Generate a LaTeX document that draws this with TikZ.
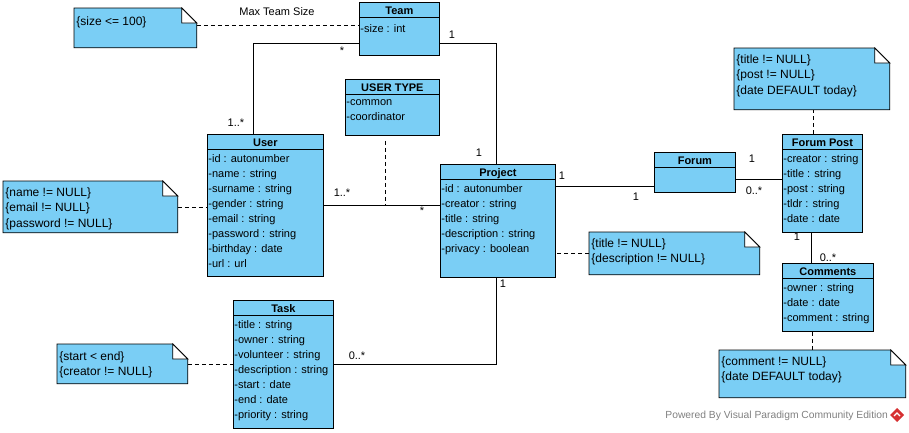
\documentclass[tikz,border=0pt]{standalone}
\usepackage{fontspec}
\setmainfont{Liberation Sans}
\usetikzlibrary{calc}

\definecolor{vpblue}{RGB}{122,206,245}
\definecolor{vpgrey}{RGB}{128,128,128}
\definecolor{vpred}{RGB}{214,48,49}

\tikzset{every picture/.style={line width=0.8pt}}
\tikzset{
  classbox/.style={draw, fill=vpblue, anchor=north west, inner sep=0pt},
  classname/.style={font=\fontsize{11}{15}\selectfont\bfseries, text height=8pt, text depth=0pt, inner sep=0pt},
  attrs/.style={font=\fontsize{11}{15}\selectfont, align=left, anchor=north west, inner xsep=1pt, inner ysep=0pt, execute at begin node=\strut},
  notebox/.style={anchor=north west, inner sep=0pt},
  notetext/.style={font=\fontsize{12}{15.5}\selectfont, align=left, anchor=north west, inner xsep=2pt, inner ysep=0pt, execute at begin node=\strut},
  mult/.style={font=\fontsize{11}{13}\selectfont, inner sep=0pt},
  constraint/.style={dash pattern=on 4pt off 3pt},
}

% header line of a class box
\newcommand{\classrule}[1]{\draw ($(#1.north west)+(0,15)$) -- ($(#1.north east)+(0,15)$);}
% note outline with folded corner
\newcommand{\dognote}[1]{%
  \draw[fill=vpblue] (#1.north west) -- ($(#1.north east)+(-15,0)$) -- ($(#1.north east)+(0,15)$) -- (#1.south east) -- (#1.south west) -- cycle;
  \draw[fill=white] ($(#1.north east)+(-15,0)$) -- ($(#1.north east)+(-15,15)$) -- ($(#1.north east)+(0,15)$) -- cycle;}

\begin{document}
\begin{tikzpicture}[x=1pt,y=1pt,yscale=-1,xscale=1]
\useasboundingbox (0,0) rectangle (909,432);

%Shape: Class [Team]
\node[classbox, minimum width=80, minimum height=53] (team) at (359,2) {};
\classrule{team}
\node[classname] (teamname) at ($(team.north)+(0,8)$) {Team};
\node[attrs] (teamattrs) at ($(team.north west)+(0,20)$) {-size : int};

%Shape: Class [USER TYPE]
\node[classbox, minimum width=94, minimum height=56] (utype) at (345,79) {};
\classrule{utype}
\node[classname] (utypename) at ($(utype.north)+(0,8)$) {USER TYPE};
\node[attrs] (utypeattrs) at ($(utype.north west)+(0,20)$) {-common\\-coordinator};

%Shape: Class [User]
\node[classbox, minimum width=116, minimum height=142] (user) at (207,134) {};
\classrule{user}
\node[classname] (username) at ($(user.north)+(0,8)$) {User};
\node[attrs] (userattrs) at ($(user.north west)+(0,20)$) {-id : autonumber\\-name : string\\-surname : string\\-gender : string\\-email : string\\-password : string\\-birthday : date\\-url : url};

%Shape: Class [Project]
\node[classbox, minimum width=115, minimum height=113] (project) at (440,164) {};
\classrule{project}
\node[classname] (projectname) at ($(project.north)+(0,8)$) {Project};
\node[attrs] (projectattrs) at ($(project.north west)+(0,20)$) {-id : autonumber\\-creator : string\\-title : string\\-description : string\\-privacy : boolean};

%Shape: Class [Forum]
\node[classbox, minimum width=81, minimum height=40] (forum) at (654,152) {};
\classrule{forum}
\node[classname] (forumname) at ($(forum.north)+(0,8)$) {Forum};

%Shape: Class [Forum Post]
\node[classbox, minimum width=80, minimum height=98] (fpost) at (782,134) {};
\classrule{fpost}
\node[classname] (fpostname) at ($(fpost.north)+(0,8)$) {Forum Post};
\node[attrs] (fpostattrs) at ($(fpost.north west)+(0,20)$) {-creator : string\\-title : string\\-post : string\\-tldr : string\\-date : date};

%Shape: Class [Comments]
\node[classbox, minimum width=91, minimum height=68] (comments) at (782,263) {};
\classrule{comments}
\node[classname] (commentsname) at ($(comments.north)+(0,8)$) {Comments};
\node[attrs] (commentsattrs) at ($(comments.north west)+(0,20)$) {-owner : string\\-date : date\\-comment : string};

%Shape: Class [Task]
\node[classbox, minimum width=100, minimum height=128] (task) at (233,300) {};
\classrule{task}
\node[classname] (taskname) at ($(task.north)+(0,8)$) {Task};
\node[attrs] (taskattrs) at ($(task.north west)+(0,20)$) {-title : string\\-owner : string\\-volunteer : string\\-description : string\\-start : date\\-end : date\\-priority : string};

%Shape: Notes
\node[notebox, minimum width=122, minimum height=39] (teamnote) at (74,8) {};
\dognote{teamnote}
\node[notetext] (teamnotetext) at ($(teamnote.north west)+(0,6)$) {\{size <= 100\}};

\node[notebox, minimum width=174, minimum height=51] (usernote) at (3,181) {};
\dognote{usernote}
\node[notetext] (usernotetext) at ($(usernote.north west)+(0,6)$) {\{name != NULL\}\\\{email != NULL\}\\\{password != NULL\}};

\node[notebox, minimum width=155, minimum height=61] (fpnote) at (734,48) {};
\dognote{fpnote}
\node[notetext] (fpnotetext) at ($(fpnote.north west)+(0,6)$) {\{title != NULL\}\\\{post != NULL\}\\\{date DEFAULT today\}};

\node[notebox, minimum width=170, minimum height=42] (pnote) at (589,232) {};
\dognote{pnote}
\node[notetext] (pnotetext) at ($(pnote.north west)+(0,6)$) {\{title != NULL\}\\\{description != NULL\}};

\node[notebox, minimum width=130, minimum height=39] (tasknote) at (57,344) {};
\dognote{tasknote}
\node[notetext] (tasknotetext) at ($(tasknote.north west)+(0,7)$) {\{start < end\}\\\{creator != NULL\}};

\node[notebox, minimum width=186, minimum height=47] (cnote) at (719,350) {};
\dognote{cnote}
\node[notetext] (cnotetext) at ($(cnote.north west)+(0,6)$) {\{comment != NULL\}\\\{date DEFAULT today\}};

%Straight Lines [associations]
\draw ($(team.south west)+(0,-12)$) -| ($(user.north west)+(46,0)$);
\draw ($(team.south east)+(0,-12)$) -| ($(project.north west)+(56,0)$);
\draw (user.east) -- (user.east -| project.west);
\draw ($(forum.south west)+(0,-6)$) coordinate (pf) -- (pf -| project.east);
\draw ($(forum.east)+(0,7)$) coordinate (ff) -- (ff -| fpost.west);
\draw ($(fpost.south west)+(29,0)$) coordinate (fc) -- (fc |- comments.north);
\draw ($(project.south west)+(56,0)$) |- (task.east);

%Straight Lines [constraints]
\draw[constraint] ($(teamnote.north east)+(0,17)$) coordinate (tn) -- (tn -| team.west);
\draw[constraint] ($(utype.south west)+(40,5)$) coordinate (ut) -- (ut |- user.east);
\draw[constraint] ($(fpost.north west)+(31,0)$) coordinate (fn) -- (fn |- fpnote.south);
\draw[constraint] ($(comments.south west)+(30,0)$) coordinate (cn) -- (cn |- cnote.north);
\draw[constraint] (usernote.east) -- (usernote.east -| user.west);
\draw[constraint] (pnote.west) -- (pnote.west -| project.east);
\draw[constraint] (tasknote.east) -- (tasknote.east -| task.west);

% Text Node
\node[mult] (maxsize) at (277,12) {Max Team Size};
% Text Node
\node[mult] (m1) at (342,51) {*};
\node[mult] (m2) at (236,123) {1..*};
\node[mult] (m3) at (452,35) {1};
\node[mult] (m4) at (479,153) {1};
\node[mult] (m5) at (342,193) {1..*};
\node[mult] (m6) at (422,211) {*};
\node[mult] (m7) at (562,176) {1};
\node[mult] (m8) at (636,197) {1};
\node[mult] (m9) at (752,159) {1};
\node[mult] (m10) at (754,191) {0..*};
\node[mult] (m11) at (797,237) {1};
\node[mult] (m12) at (828,258) {0..*};
\node[mult] (m13) at (503,284) {1};
\node[mult] (m14) at (357,356) {0..*};

% Text Node
\node[anchor=west, inner sep=0pt, font=\fontsize{10.3}{12}\selectfont, text=vpgrey] (powered) at (665,416) {Powered By Visual Paradigm Community Edition};
%Shape: Logo
\fill[vpred] (897,408) -- (904,415) -- (897,422) -- (890,415) -- cycle;
\draw[white, line width=1.2pt] (894,416) -- (897,413) -- (900,416);

\end{tikzpicture}
\end{document}
